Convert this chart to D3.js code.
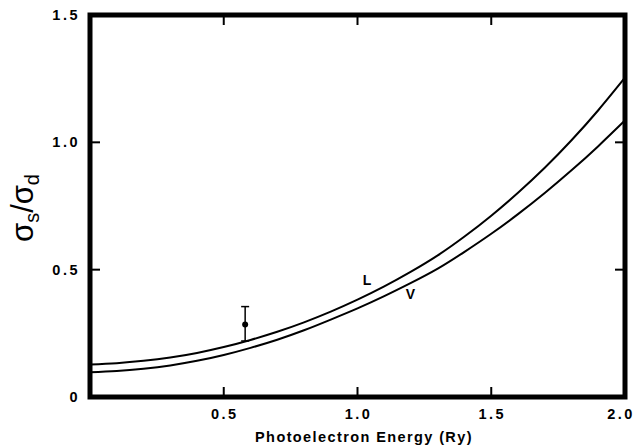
<!DOCTYPE html>
<html>
<head>
<meta charset="utf-8">
<script src="https://cdn.jsdelivr.net/npm/d3@7"></script>
<style>
  body { margin: 0; background: #fff; }
  text { font-family: "Liberation Sans", Arial, sans-serif; font-weight: bold; fill: #000; }
</style>
</head>
<body>
<div id="chart-area"></div>
<script>
// energy grid (Ry)
var energy = [0, 0.1, 0.2, 0.3, 0.4, 0.5, 0.6, 0.7, 0.8, 0.9, 1.0, 1.1, 1.2, 1.3, 1.4, 1.5, 1.6, 1.7, 1.8, 1.9, 2.0];
// length form (L)
var lengthRatio = [0.128, 0.133, 0.142, 0.155, 0.173, 0.196, 0.224, 0.256, 0.293, 0.335, 0.382, 0.434, 0.492, 0.556, 0.63, 0.712, 0.802, 0.90, 1.008, 1.126, 1.254];
// velocity form (V)
var velocityRatio = [0.097, 0.102, 0.111, 0.124, 0.142, 0.165, 0.193, 0.225, 0.262, 0.304, 0.348, 0.396, 0.448, 0.504, 0.57, 0.641, 0.718, 0.801, 0.89, 0.985, 1.086];
// experimental point with error bar
var expPoint = { x: 0.58, y: 0.285, lo: 0.22, hi: 0.355 };

var xTicks = [0.5, 1.0, 1.5, 2.0];
var yTicks = [0, 0.5, 1.0, 1.5];

var width = 638, height = 447;
var margin = { top: 15, right: 13, bottom: 50, left: 90 };

var svg = d3.select("#chart-area").append("svg")
    .attr("width", width)
    .attr("height", height);

var x = d3.scaleLinear().domain([0, 2]).range([margin.left, width - margin.right]);
var y = d3.scaleLinear().domain([0, 1.5]).range([height - margin.bottom, margin.top]);

// inner ticks on all four sides
var tickLen = 10;
[0.5, 1.0, 1.5].forEach(function (t) {
    svg.append("line").attr("x1", x(t)).attr("x2", x(t))
        .attr("y1", y(0)).attr("y2", y(0) - tickLen)
        .attr("stroke", "#000").attr("stroke-width", 2);
    svg.append("line").attr("x1", x(t)).attr("x2", x(t))
        .attr("y1", y(1.5)).attr("y2", y(1.5) + tickLen)
        .attr("stroke", "#000").attr("stroke-width", 2);
});
[0.5, 1.0].forEach(function (t) {
    svg.append("line").attr("x1", x(0)).attr("x2", x(0) + tickLen)
        .attr("y1", y(t)).attr("y2", y(t))
        .attr("stroke", "#000").attr("stroke-width", 2);
    svg.append("line").attr("x1", x(2)).attr("x2", x(2) - tickLen)
        .attr("y1", y(t)).attr("y2", y(t))
        .attr("stroke", "#000").attr("stroke-width", 2);
});

// curves
var line = d3.line()
    .x(function (d) { return x(d[0]); })
    .y(function (d) { return y(d[1]); })
    .curve(d3.curveNatural);

svg.append("path")
    .datum(energy.map(function (e, i) { return [e, lengthRatio[i]]; }))
    .attr("d", line)
    .attr("fill", "none").attr("stroke", "#000").attr("stroke-width", 2);

svg.append("path")
    .datum(energy.map(function (e, i) { return [e, velocityRatio[i]]; }))
    .attr("d", line)
    .attr("fill", "none").attr("stroke", "#000").attr("stroke-width", 2);

// curve labels
svg.append("text").attr("x", x(1.02)).attr("y", y(0.44))
    .attr("font-size", "14px").text("L");
svg.append("text").attr("x", x(1.18)).attr("y", y(0.385))
    .attr("font-size", "14px").text("V");

// error bar
var cap = 4;
svg.append("line").attr("x1", x(expPoint.x)).attr("x2", x(expPoint.x))
    .attr("y1", y(expPoint.lo)).attr("y2", y(expPoint.hi))
    .attr("stroke", "#000").attr("stroke-width", 1.5);
[expPoint.lo, expPoint.hi].forEach(function (v) {
    svg.append("line").attr("x1", x(expPoint.x) - cap).attr("x2", x(expPoint.x) + cap)
        .attr("y1", y(v)).attr("y2", y(v))
        .attr("stroke", "#000").attr("stroke-width", 1.5);
});
svg.append("circle").attr("cx", x(expPoint.x)).attr("cy", y(expPoint.y))
    .attr("r", 3).attr("fill", "#000");

// frame
svg.append("rect")
    .attr("x", x(0)).attr("y", y(1.5))
    .attr("width", x(2) - x(0)).attr("height", y(0) - y(1.5))
    .attr("fill", "none").attr("stroke", "#000").attr("stroke-width", 5);

// tick labels
svg.selectAll(".xlab")
    .data(xTicks)
    .enter().append("text")
    .attr("class", "xlab")
    .attr("x", function (d) { return Math.min(x(d) + 1, width - 17); })
    .attr("y", y(0) + 22)
    .attr("text-anchor", "middle")
    .attr("font-size", "14.5px")
    .attr("letter-spacing", "2.5px")
    .text(function (d) { return d.toFixed(1); });

svg.selectAll(".ylab")
    .data(yTicks)
    .enter().append("text")
    .attr("class", "ylab")
    .attr("x", x(0) - 10)
    .attr("y", function (d) { return y(d) + 5; })
    .attr("text-anchor", "end")
    .attr("font-size", "14.5px")
    .attr("letter-spacing", "2.5px")
    .text(function (d) { return d === 0 ? "0" : d.toFixed(1); });

// axis titles
svg.append("text")
    .attr("x", 364).attr("y", 442)
    .attr("text-anchor", "middle")
    .attr("font-size", "14.5px")
    .attr("letter-spacing", "1.4px")
    .text("Photoelectron Energy (Ry)");

var ylab = svg.append("text")
    .attr("transform", "translate(33,208) rotate(-90)")
    .attr("text-anchor", "middle")
    .attr("font-size", "31px")
    .style("font-weight", "normal");
ylab.append("tspan").text("σ");
ylab.append("tspan").attr("font-size", "20px").attr("dy", 6).text("s");
ylab.append("tspan").attr("dy", -6).text("/σ");
ylab.append("tspan").attr("font-size", "20px").attr("dy", 6).text("d");
</script>
</body>
</html>
